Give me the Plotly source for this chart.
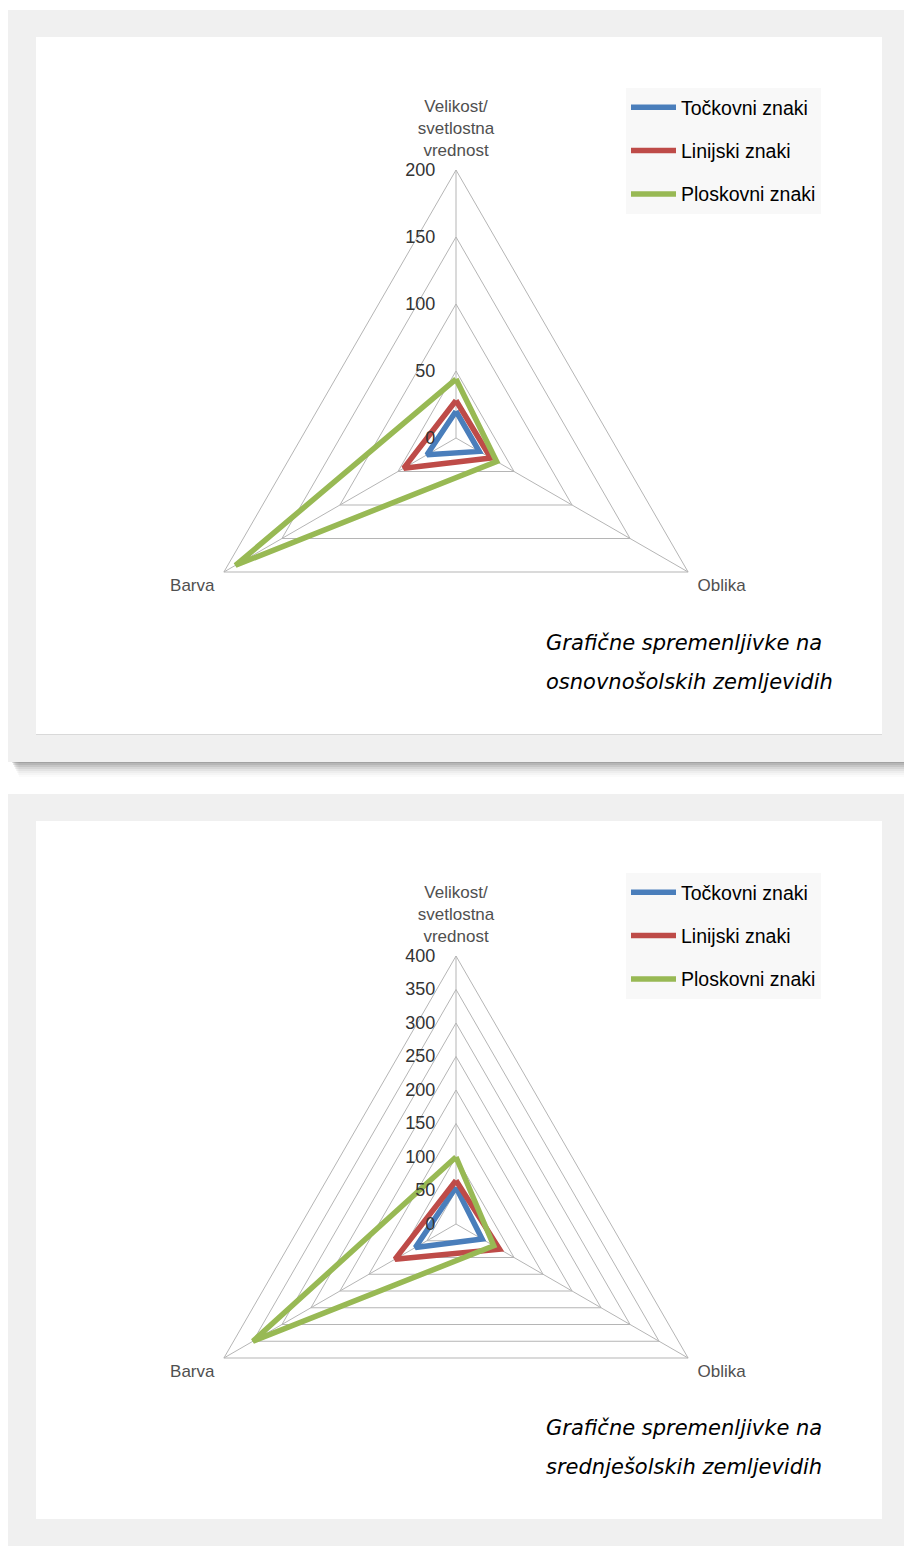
import plotly.graph_objects as go

W, H = 904, 1546

# Radar axes (clockwise from the top)
axes = ["Velikost/<br>svetlostna<br>vrednost", "Oblika", "Barva"]
series_names = ["Točkovni znaki", "Linijski znaki", "Ploskovni znaki"]
colors = ["#4A7EBB", "#BE4B48", "#98B954"]

# Primary-school maps
osnovna_tockovni = [20, 20, 25]
osnovna_linijski = [28, 30, 45]
osnovna_ploskovni = [44, 35, 190]

# Secondary-school maps
srednja_tockovni = [55, 45, 70]
srednja_linijski = [65, 75, 105]
srednja_ploskovni = [100, 65, 350]

caption_top = ["Grafične spremenljivke na", "osnovnošolskih zemljevidih"]
caption_bottom = ["Grafične spremenljivke na", "srednješolskih zemljevidih"]

FONT = "Liberation Sans, Arial, sans-serif"


def px(x):
    return x / W


def py(y):
    return 1 - y / H


fig = go.Figure()

panels = [
    ("polar", "legend", [osnovna_tockovni, osnovna_linijski, osnovna_ploskovni]),
    ("polar2", "legend2", [srednja_tockovni, srednja_linijski, srednja_ploskovni]),
]
for sub, leg, data in panels:
    for name, col, vals in zip(series_names, colors, data):
        fig.add_trace(go.Scatterpolar(
            r=vals + vals[:1],
            theta=axes + axes[:1],
            mode="lines",
            name=name,
            line=dict(color=col, width=5.5),
            subplot=sub,
            legend=leg,
            legendgroup=sub + name,
            hoverinfo="skip",
        ))

# Panel frames, white cards and the drop shadow
shapes = []


def rect(x0, y0, x1, y1, color):
    shapes.append(dict(type="rect", xref="paper", yref="paper",
                       x0=px(x0), x1=px(x1), y0=py(y1), y1=py(y0),
                       fillcolor=color, line=dict(width=0), layer="below"))


# soft shadow under the first frame
for i, a in enumerate([0.16, 0.13, 0.10, 0.08, 0.06, 0.04, 0.03, 0.02]):
    rect(12 + i, 762, W, 763 + 2 * i, "rgba(70,70,70,%.2f)" % a)

rect(8, 10, W, 762, "#F0F0F0")
rect(36, 37, 882, 734, "#FFFFFF")
shapes.append(dict(type="line", xref="paper", yref="paper", x0=px(36), x1=px(882),
                   y0=py(734.5), y1=py(734.5), line=dict(color="#D9D9D9", width=1),
                   layer="below"))
rect(8, 794, W, H, "#F0F0F0")
rect(36, 821, 882, 1519, "#FFFFFF")


def polar_layout(cx, cy, R, rmax):
    return dict(
        domain=dict(x=[px(cx - R), px(cx + R)], y=[py(cy + R), py(cy - R)]),
        bgcolor="rgba(0,0,0,0)",
        gridshape="linear",
        radialaxis=dict(
            range=[0, rmax], dtick=50, angle=90, tickangle=90,
            side="counterclockwise",
            showline=False, ticks="outside", ticklen=14, tickcolor="rgba(0,0,0,0)",
            gridcolor="#B5B5B5", gridwidth=1,
            tickfont=dict(family=FONT, size=18, color="#333333"),
        ),
        angularaxis=dict(
            rotation=90, direction="clockwise",
            showline=True, linecolor="#B5B5B5", linewidth=1,
            gridcolor="#B5B5B5", gridwidth=1,
            ticks="outside", ticklen=7, tickcolor="rgba(0,0,0,0)",
            tickfont=dict(family=FONT, size=17, color="#505050"),
        ),
    )


def legend_layout(top):
    return dict(
        x=px(626), y=py(top), xanchor="left", yanchor="top",
        bgcolor="#F8F8F8", borderwidth=0,
        font=dict(family=FONT, size=19.5, color="#000000"),
        tracegroupgap=15, itemwidth=45,
    )


annotations = []
for lines, y0 in [(caption_top, 643), (caption_bottom, 1428)]:
    for k, line in enumerate(lines):
        annotations.append(dict(
            text=line, xref="paper", yref="paper", x=px(544), y=py(y0 + 39 * k),
            xanchor="left", yanchor="middle", align="left", showarrow=False,
            font=dict(family="DejaVu Sans", size=21, color="#000000", style="italic"),
        ))

fig.update_layout(
    width=W, height=H,
    margin=dict(l=0, r=0, t=0, b=0),
    paper_bgcolor="#FFFFFF",
    showlegend=True,
    polar=polar_layout(456, 438, 268, 200),
    polar2=polar_layout(456, 1224, 268, 400),
    legend=legend_layout(88),
    legend2=legend_layout(873),
    shapes=shapes,
    annotations=annotations,
)

fig.write_html("out.html")
